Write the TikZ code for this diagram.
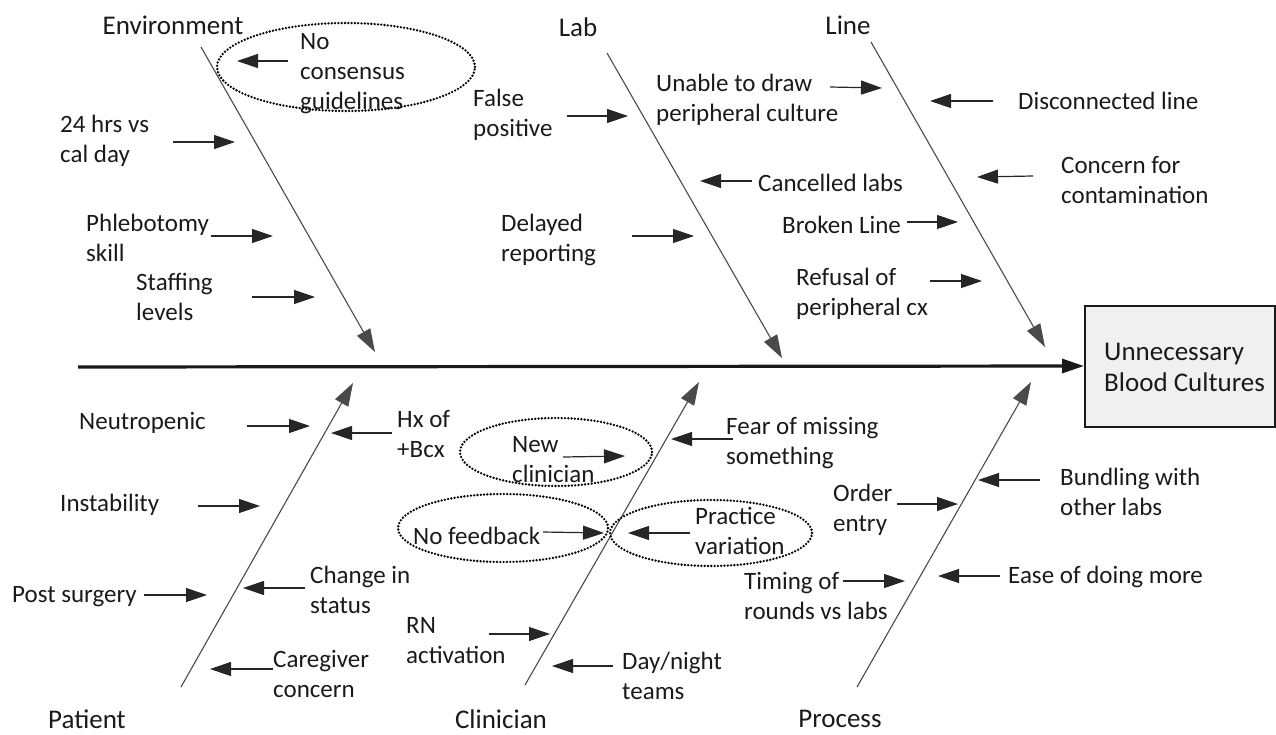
\documentclass[tikz,border=0pt]{standalone}
\usepackage{fontspec}
\setmainfont{Carlito}
\usetikzlibrary{arrows.meta,shapes.geometric}
\definecolor{txtc}{HTML}{1A1A1A}
\definecolor{bonec}{HTML}{4A4A4A}
\definecolor{boxfill}{HTML}{F0F0F0}
\tikzset{
  txt/.style={inner sep=0pt, anchor=west, align=left, text=txtc, font=\fontsize{25}{30}\selectfont},
  cat/.style={inner sep=0pt, text=txtc, font=\fontsize{27}{32}\selectfont},
  arr/.style={draw=black!85, line width=1.2pt, -{Triangle[length=21pt,width=14pt]}},
  bone/.style={draw=bonec, line width=1.1pt, -{Triangle[length=23pt,width=15pt]}},
  spine/.style={draw=black!90, line width=3.2pt, -{Triangle[length=22pt,width=14pt]}},
  dots/.style={draw=black, line width=2.6pt, dash pattern=on 0pt off 3.3pt, line cap=round, ellipse, inner sep=0pt},
  effbox/.style={draw=black!90, line width=2pt, fill=boxfill, rectangle, inner sep=0pt}
}
\begin{document}
\begin{tikzpicture}[x=1pt,y=-1pt]
\useasboundingbox (0,0) rectangle (1276,734);

% effect box and spine
\node[effbox, minimum width=190pt, minimum height=121pt] (effect) at (1180,366) {};
\node[txt, font=\fontsize{27}{31}\selectfont] (efftext) at (1104,367) {Unnecessary\\Blood Cultures};
\coordinate (spS) at (78,367);
\draw[spine] (spS) -- (effect.west);

% category labels
\node[cat] (env) at (173,25) {Environment};
\node[cat] (lab) at (578,27) {Lab};
\node[cat] (line) at (848,25) {Line};
\node[cat] (pat) at (87,719) {Patient};
\node[cat] (cli) at (501,719) {Clinician};
\node[cat] (pro) at (840,719) {Process};

% bones
\coordinate (envS) at (201,47);  \coordinate (envT) at (375,352);
\coordinate (labS) at (607,53);  \coordinate (labT) at (782,358);
\coordinate (linS) at (871,42);  \coordinate (linT) at (1045,347);
\coordinate (patS) at (181,687); \coordinate (patT) at (353,383);
\coordinate (cliS) at (525,685); \coordinate (cliT) at (699,382);
\coordinate (proS) at (857,687); \coordinate (proT) at (1031,382);
\draw[bone] (envS) -- (envT);
\draw[bone] (labS) -- (labT);
\draw[bone] (linS) -- (linT);
\draw[bone] (patS) -- (patT);
\draw[bone] (cliS) -- (cliT);
\draw[bone] (proS) -- (proT);

% dotted ellipses
\node[dots, minimum width=258pt, minimum height=88pt] (ellA) at (346,67) {};
\node[dots, minimum width=192pt, minimum height=68pt] (ellB) at (556,452) {};
\node[dots, minimum width=210pt, minimum height=68pt] (ellC) at (503,528) {};
\node[dots, minimum width=202pt, minimum height=66pt] (ellD) at (711,533) {};

% Environment causes
\node[txt] (nocons) at (300,74) {No\\consensus\\guidelines};
\node[txt] (hrs) at (60,141) {24 hrs vs\\cal day};
\node[txt] (phleb) at (86,238) {Phlebotomy\\skill};
\node[txt] (staff) at (136,297) {Staffing\\levels};
\draw[arr] (288,61) coordinate (e1s) -- (237,61) coordinate (e1e);
\draw[arr] (173,142) coordinate (e2s) -- (235,142) coordinate (e2e);
\draw[arr] (211,236) coordinate (e3s) -- (273,236) coordinate (e3e);
\draw[arr] (252,297) coordinate (e4s) -- (315,297) coordinate (e4e);

% Lab causes
\node[txt] (falsep) at (473,115) {False\\positive};
\node[txt] (unable) at (656,100) {Unable to draw\\peripheral culture};
\node[txt] (cancel) at (758,183) {Cancelled labs};
\node[txt] (delay) at (501,240) {Delayed\\reporting};
\draw[arr] (567,116) coordinate (l1s) -- (628,116) coordinate (l1e);
\draw[arr] (830,87) coordinate (l2s) -- (882,88) coordinate (l2e);
\draw[arr] (752,181) coordinate (l3s) -- (700,181) coordinate (l3e);
\draw[arr] (632,236) coordinate (l4s) -- (694,236) coordinate (l4e);

% Line causes
\node[txt] (broken) at (782,225) {Broken Line};
\node[txt] (refusal) at (796,294) {Refusal of\\peripheral cx};
\node[txt] (disc) at (1018,101) {Disconnected line};
\node[txt] (contam) at (1061,180) {Concern for\\contamination};
\draw[arr] (907,222) coordinate (n1s) -- (958,222) coordinate (n1e);
\draw[arr] (930,281) coordinate (n2s) -- (982,281) coordinate (n2e);
\draw[arr] (993,101) coordinate (n3s) -- (930,101) coordinate (n3e);
\draw[arr] (1033,176) coordinate (n4s) -- (977,177) coordinate (n4e);

% Patient causes
\node[txt] (neutro) at (79,423) {Neutropenic};
\node[txt] (hx) at (397,434) {Hx of\\+Bcx};
\node[txt] (instab) at (60,505) {Instability};
\node[txt] (post) at (12,597) {Post surgery};
\node[txt] (change) at (310,590) {Change in\\status};
\node[txt] (caregiver) at (273,674) {Caregiver\\concern};
\draw[arr] (247,426) coordinate (p1s) -- (310,426) coordinate (p1e);
\draw[arr] (392,433) coordinate (p2s) -- (331,433) coordinate (p2e);
\draw[arr] (198,506) coordinate (p3s) -- (260,506) coordinate (p3e);
\draw[arr] (144,595) coordinate (p4s) -- (207,595) coordinate (p4e);
\draw[arr] (305,588) coordinate (p5s) -- (243,588) coordinate (p5e);
\draw[arr] (273,669) coordinate (p6s) -- (210,669) coordinate (p6e);

% Clinician causes
\node[txt] (newclin) at (512,460) {New\\clinician};
\node[txt] (nofeed) at (413,536) {No feedback};
\node[txt] (practice) at (695,531) {Practice\\variation};
\node[txt] (fear) at (726,443) {Fear of missing\\something};
\node[txt] (rn) at (406,641) {RN\\activation};
\node[txt] (daynight) at (622,676) {Day/night\\teams};
\draw[arr] (563,457) coordinate (c1s) -- (625,456) coordinate (c1e);
\draw[arr] (543,532) coordinate (c2s) -- (604,533) coordinate (c2e);
\draw[arr] (690,533) coordinate (c3s) -- (628,533) coordinate (c3e);
\draw[arr] (733,439) coordinate (c4s) -- (671,439) coordinate (c4e);
\draw[arr] (489,634) coordinate (c5s) -- (550,634) coordinate (c5e);
\draw[arr] (613,666) coordinate (c6s) -- (552,666) coordinate (c6e);

% Process causes
\node[txt] (order) at (833,510) {Order\\entry};
\node[txt] (bundle) at (1060,492) {Bundling with\\other labs};
\node[txt] (timing) at (744,596) {Timing of\\rounds vs labs};
\node[txt] (ease) at (1008,577) {Ease of doing more};
\draw[arr] (897,504) coordinate (r1s) -- (958,504) coordinate (r1e);
\draw[arr] (1040,480) coordinate (r2s) -- (978,480) coordinate (r2e);
\draw[arr] (843,581) coordinate (r3s) -- (905,581) coordinate (r3e);
\draw[arr] (1000,576) coordinate (r4s) -- (938,576) coordinate (r4e);
\end{tikzpicture}
\end{document}
